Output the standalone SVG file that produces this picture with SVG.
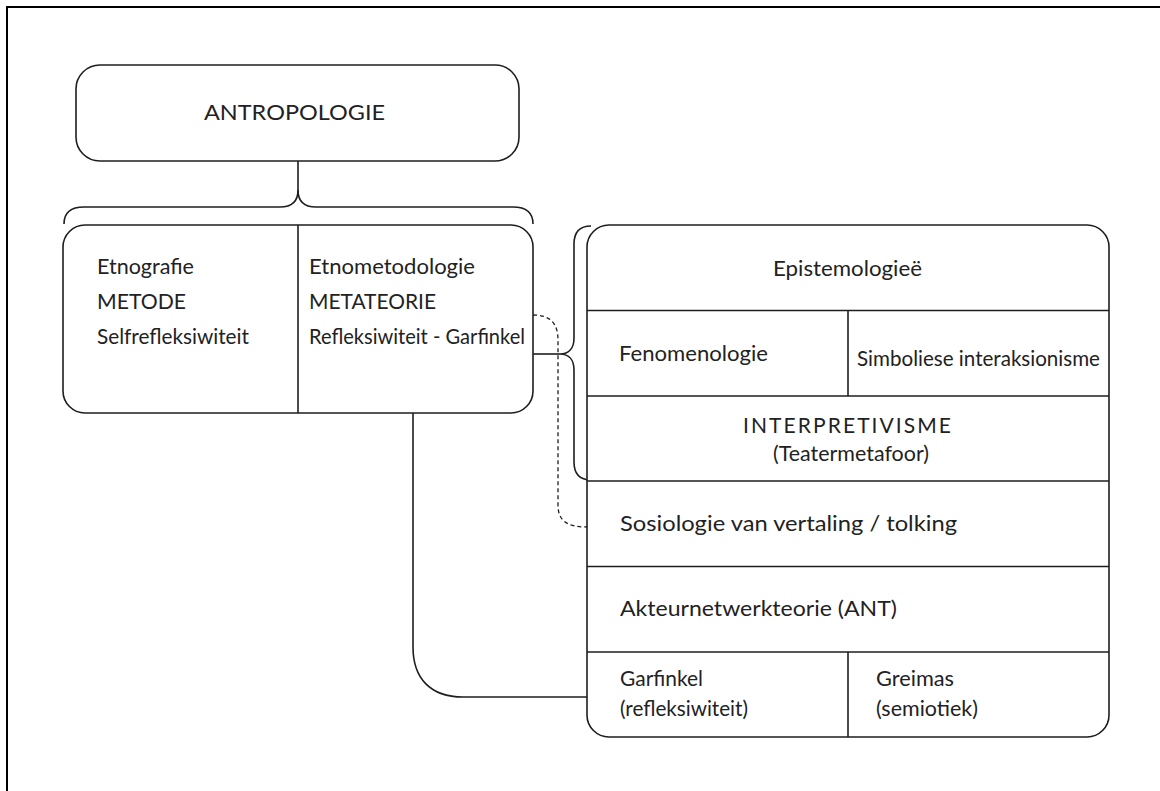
<svg xmlns="http://www.w3.org/2000/svg" width="1160" height="791" viewBox="0 0 1160 791">
<style>
  .box{fill:#fff;stroke:#1e1e1e;stroke-width:1.6}
  .ln{fill:none;stroke:#1e1e1e;stroke-width:1.6}
  .dash{fill:none;stroke:#1e1e1e;stroke-width:1.3;stroke-dasharray:4 3}
  text{font-family:Lato,"Noto Sans","Liberation Sans",sans-serif;font-size:21px;fill:#222}
</style>
<rect x="0" y="0" width="1160" height="791" fill="#fff"/>
<path d="M7,791 V7 H1160" fill="none" stroke="#000" stroke-width="2"/>

<g id="connectors">
  <path class="ln" d="M298,161 V190 C298,202 292,207 280,207 H84 C70,207 64,213 64,224"/>
  <path class="ln" d="M298,190 C298,202 304,207 316,207 H513 C527,207 533,213 533,224"/>
  <path class="ln" d="M591,226 C579,226 574,232 574,244 V338 C574,348 569,354 560,354 C569,354 574,360 574,370 V462 C574,474 579,480 591,480"/>
  <path class="ln" d="M533,354 H560"/>
  <path class="ln" d="M413,413 V647 C413,678 430,697 463,697 H587"/>
  <path class="dash" d="M533,315 C550,315 558,323 558,340 V505 C558,520 566,527 587,527"/>
</g>

<g id="antropologie">
  <rect class="box" x="76" y="65" width="443" height="96" rx="24"/>
  <text x="204" y="120" textLength="181" lengthAdjust="spacingAndGlyphs">ANTROPOLOGIE</text>
</g>

<g id="etnografie-etnometodologie">
  <rect class="box" x="63" y="225" width="470" height="188" rx="22"/>
  <line class="ln" x1="298" y1="225" x2="298" y2="413"/>
  <text x="97" y="274" textLength="97" lengthAdjust="spacingAndGlyphs">Etnografie</text>
  <text x="97" y="309" textLength="89" lengthAdjust="spacingAndGlyphs">METODE</text>
  <text x="97" y="344" textLength="152" lengthAdjust="spacingAndGlyphs">Selfrefleksiwiteit</text>
  <text x="309" y="274" textLength="166" lengthAdjust="spacingAndGlyphs">Etnometodologie</text>
  <text x="309" y="309" textLength="127" lengthAdjust="spacingAndGlyphs">METATEORIE</text>
  <text x="309" y="344" textLength="216" lengthAdjust="spacingAndGlyphs">Refleksiwiteit - Garfinkel</text>
</g>

<g id="teorie-kolom">
  <rect class="box" x="587" y="225" width="522" height="512" rx="22"/>
  <line class="ln" x1="587" y1="310.5" x2="1109" y2="310.5"/>
  <line class="ln" x1="587" y1="396" x2="1109" y2="396"/>
  <line class="ln" x1="587" y1="481" x2="1109" y2="481"/>
  <line class="ln" x1="587" y1="566.5" x2="1109" y2="566.5"/>
  <line class="ln" x1="587" y1="652" x2="1109" y2="652"/>
  <line class="ln" x1="848" y1="310.5" x2="848" y2="396"/>
  <line class="ln" x1="848" y1="652" x2="848" y2="737"/>
</g>
<g id="epistemologiee"><text x="773" y="276" textLength="149" lengthAdjust="spacingAndGlyphs">Epistemologieë</text></g>
<g id="fenomenologie"><text x="619" y="361" textLength="149" lengthAdjust="spacingAndGlyphs">Fenomenologie</text></g>
<g id="simboliese"><text x="857" y="366" textLength="243" lengthAdjust="spacingAndGlyphs">Simboliese interaksionisme</text></g>
<g id="interpretivisme">
  <text x="743" y="433" textLength="208">INTERPRETIVISME</text>
  <text x="773" y="461" textLength="156" lengthAdjust="spacingAndGlyphs">(Teatermetafoor)</text>
</g>
<g id="sosiologie"><text x="620" y="531" textLength="337" lengthAdjust="spacingAndGlyphs">Sosiologie van vertaling / tolking</text></g>
<g id="ant"><text x="620" y="616" textLength="277" lengthAdjust="spacingAndGlyphs">Akteurnetwerkteorie (ANT)</text></g>
<g id="garfinkel">
  <text x="620" y="686" textLength="83" lengthAdjust="spacingAndGlyphs">Garfinkel</text>
  <text x="620" y="716" textLength="128" lengthAdjust="spacingAndGlyphs">(refleksiwiteit)</text>
</g>
<g id="greimas">
  <text x="876" y="686" textLength="78" lengthAdjust="spacingAndGlyphs">Greimas</text>
  <text x="876" y="716" textLength="102" lengthAdjust="spacingAndGlyphs">(semiotiek)</text>
</g>
</svg>
